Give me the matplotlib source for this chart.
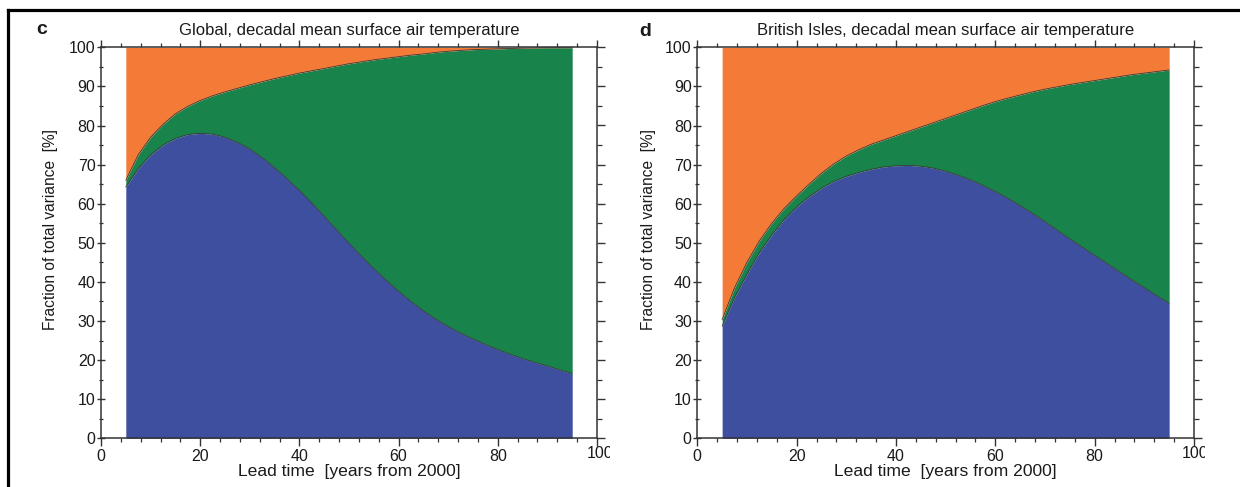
import matplotlib
matplotlib.use("Agg")
from matplotlib import pyplot as plt
from matplotlib.lines import Line2D
from matplotlib.ticker import MultipleLocator
from matplotlib.transforms import Bbox, TransformedBbox

plt.rcParams['font.family'] = ['Liberation Sans', 'DejaVu Sans']

# Data (lead time, % of total variance; cumulative boundaries)
lead_time = [5, 7.5, 10, 12.5, 15, 17.5, 20, 22.5, 25, 27.5, 30, 32.5, 35, 37.5,
             40, 42.5, 45, 47.5, 50, 52.5, 55, 57.5, 60, 62.5, 65, 67.5, 70, 72.5,
             75, 77.5, 80, 82.5, 85, 87.5, 90, 92.5, 95]

global_blue = [64.3, 69.0, 72.5, 75.0, 76.7, 77.7, 78.0, 77.8, 77.0, 75.7, 74.0, 71.8,
               69.2, 66.4, 63.4, 60.2, 56.8, 53.3, 49.9, 46.6, 43.4, 40.4, 37.6, 35.0,
               32.6, 30.5, 28.6, 26.9, 25.4, 24.0, 22.7, 21.5, 20.4, 19.4, 18.5, 17.5, 16.6]
global_green = [66.0, 72.5, 77.0, 80.3, 83.0, 84.9, 86.4, 87.6, 88.6, 89.5, 90.4, 91.2,
                92.0, 92.7, 93.4, 94.0, 94.6, 95.2, 95.8, 96.3, 96.8, 97.2, 97.6, 98.0,
                98.3, 98.7, 99.0, 99.2, 99.4, 99.5, 99.6, 99.7, 99.8, 99.85, 99.9, 99.9, 99.9]

bi_blue = [28.7, 36.0, 42.0, 47.5, 52.0, 56.0, 59.2, 61.8, 64.0, 65.7, 67.0, 68.0,
           68.8, 69.4, 69.7, 69.8, 69.6, 69.1, 68.3, 67.3, 66.1, 64.7, 63.1, 61.4,
           59.5, 57.5, 55.4, 53.2, 51.0, 48.9, 46.8, 44.7, 42.6, 40.5, 38.5, 36.5, 34.5]
bi_green = [30.4, 38.5, 45.0, 50.5, 55.0, 58.8, 62.0, 65.0, 67.8, 70.2, 72.2, 73.8,
            75.2, 76.3, 77.4, 78.5, 79.6, 80.7, 81.8, 82.9, 84.0, 85.1, 86.1, 87.0,
            87.8, 88.6, 89.3, 89.9, 90.5, 91.0, 91.5, 92.0, 92.5, 93.0, 93.4, 93.8, 94.2]

x_ticks = [0, 20, 40, 60, 80, 100]
x_ticklabels = ["0", "20", "40", "60", "80", ""]

panels = [
    ("c", "Global, decadal mean surface air temperature", global_blue, global_green),
    ("d", "British Isles, decadal mean surface air temperature", bi_blue, bi_green),
]

BLUE = "#3f4f9f"
GREEN = "#18834b"
ORANGE = "#f37b37"
EDGE = "#3a3a3a"
TXT = "#1a1a1a"
W, H = 1240, 487

fig = plt.figure(figsize=(W / 100, H / 100), dpi=100)

# Axes positions in pixels (left, right)
ax_px = [(101, 597), (697.3, 1194)]
last_label_px = [600, 1195]
clip_px = [610, 1205]
letter_px = [(42, 29), (645, 31)]
ylabel_px = [51, 648]

for i, (letter, title, blue, green) in enumerate(panels):
    x0, x1 = ax_px[i]
    ax = fig.add_axes([x0 / W, (H - 438.3) / H, (x1 - x0) / W, 391 / H])

    ax.fill_between(lead_time, 0, blue, color=BLUE, lw=0)
    ax.fill_between(lead_time, blue, green, color=GREEN, lw=0)
    ax.fill_between(lead_time, green, 100, color=ORANGE, lw=0)
    ax.plot(lead_time, blue, color=EDGE, lw=0.6)
    ax.plot(lead_time, green, color=EDGE, lw=0.6)

    ax.set_xlim(0, 100)
    ax.set_ylim(0, 100)
    ax.set_xticks(x_ticks, x_ticklabels)
    ax.xaxis.set_minor_locator(MultipleLocator(4))
    ax.yaxis.set_major_locator(MultipleLocator(10))
    ax.yaxis.set_minor_locator(MultipleLocator(5))

    for s in ax.spines.values():
        s.set_color("#333333")
        s.set_linewidth(1.1)

    ax.tick_params(axis="x", which="both", direction="out", colors="#333333",
                   labelcolor=TXT, labelsize=11.5, pad=2)
    ax.tick_params(axis="y", which="both", direction="inout", colors="#333333",
                   labelcolor=TXT, labelsize=11.5, pad=1)
    ax.tick_params(which="major", length=6, width=1.0)
    ax.tick_params(which="minor", length=3.5, width=0.9)
    ax.tick_params(axis="x", which="minor", length=3)

    # ticks on top and right (no labels)
    top = ax.secondary_xaxis("top")
    top.xaxis.set_major_locator(MultipleLocator(20))
    top.xaxis.set_minor_locator(MultipleLocator(4))
    top.tick_params(which="both", direction="out", colors="#333333", labeltop=False)
    top.tick_params(which="major", length=5, width=1.0)
    top.tick_params(which="minor", length=3, width=0.9)
    top.spines["top"].set_visible(False)
    right = ax.secondary_yaxis("right")
    right.yaxis.set_major_locator(MultipleLocator(10))
    right.yaxis.set_minor_locator(MultipleLocator(5))
    right.tick_params(which="both", direction="out", colors="#333333", labelright=False)
    right.tick_params(which="major", length=6, width=1.0)
    right.tick_params(which="minor", length=3.5, width=0.9)
    right.spines["right"].set_visible(False)

    ax.set_xlabel("Lead time  [years from 2000]", fontsize=12.6, color=TXT, labelpad=0)
    fig.text(ylabel_px[i] / W, (H - 230) / H, "Fraction of total variance  [%]",
             rotation=90, ha="center", va="center", fontsize=11.2, color=TXT)
    ax.set_title(title, fontsize=12, color=TXT, pad=9)
    fig.text(letter_px[i][0] / W, (H - letter_px[i][1]) / H, letter,
             ha="center", va="center", fontsize=14, fontweight="bold", color=TXT)

    # last x tick label, cut off at the right like in the source picture
    t = fig.text(last_label_px[i] / W, (H - 453) / H, "100", ha="center", va="center",
                 fontsize=11.5, color=TXT)
    t.set_clip_box(TransformedBbox(Bbox([[0, 0], [clip_px[i] / W, 1]]), fig.transFigure))
    t.set_clip_on(True)

# outer frame (top and left edges)
fig.add_artist(Line2D([7.5 / W, 1], [(H - 9.5) / H] * 2, color="black", lw=2.3,
                      transform=fig.transFigure))
fig.add_artist(Line2D([7.5 / W] * 2, [0, (H - 9.5) / H], color="black", lw=2.3,
                      transform=fig.transFigure))

fig.savefig("out.png", dpi=100)
